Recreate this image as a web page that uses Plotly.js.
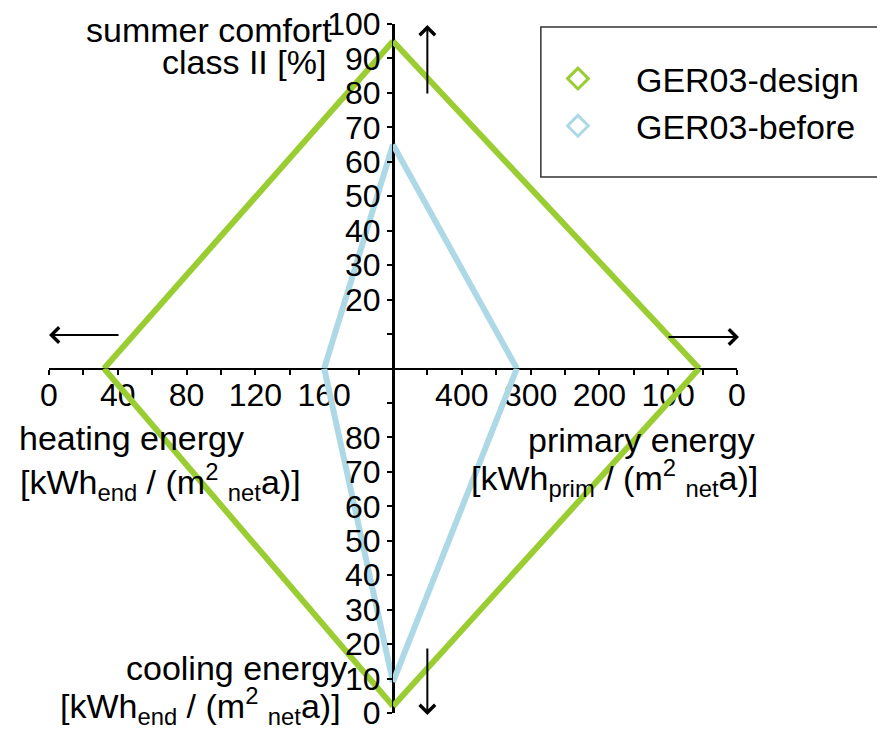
<!DOCTYPE html>
<html>
<head>
<meta charset="utf-8">
<script src="https://cdn.plot.ly/plotly-3.0.1.min.js"></script>
<style>html,body{margin:0;padding:0;background:#fff;}#chart{width:877px;height:732px;}</style>
</head>
<body>
<div id="chart"></div>
<script>
// ---- data ----
const categories = ['summer comfort class II [%]', 'primary energy', 'cooling energy', 'heating energy'];
const seriesNames = ['GER03-design', 'GER03-before'];
const seriesColors = ['#9acd32', '#add8e6'];
// order: comfort, primary, cooling, heating
const designValues = [95, 55, 2, 32];
const beforeValues = [65, 320, 9, 160];

const comfortTicks = [0, 10, 20, 30, 40, 50, 60, 70, 80, 90, 100];
const comfortLabels = ['', '', '20', '30', '40', '50', '60', '70', '80', '90', '100'];
const heatingTicks = [0, 20, 40, 60, 80, 100, 120, 140, 160, 180, 200];
const heatingLabels = ['0', '', '40', '', '80', '', '120', '', '160', '', ''];
const primaryTicks = [0, 50, 100, 150, 200, 250, 300, 350, 400, 450, 500];
const primaryLabels = ['0', '', '100', '', '200', '', '300', '', '400', '', ''];
const coolingTicks = [0, 10, 20, 30, 40, 50, 60, 70, 80, 90, 100];
const coolingLabels = ['0', '10', '20', '30', '40', '50', '60', '70', '80', '', ''];

// axis ranges (outer end first where reversed)
const comfortRange = [0, 100];   // 0 at centre, 100 at top
const heatingRange = [0, 200];   // 0 at left edge, 200 at centre
const primaryRange = [500, 0];   // 500 at centre, 0 at right edge
const coolingRange = [0, 100];   // 0 at bottom edge, 100 at centre

// ---- build ----
const COMFORT_C = comfortRange[0], HEAT_C = heatingRange[1], PRIM_C = primaryRange[0], COOL_C = coolingRange[1];
const traces = [];
function addSeries(vals, name, color) {
  const [comfort, primary, cooling, heating] = vals;
  const base = {type: 'scatter', mode: 'lines', line: {color: color, width: 6}, cliponaxis: false,
                showlegend: false, hoverinfo: 'skip', legendgroup: name, name: name};
  traces.push(Object.assign({}, base, {xaxis: 'x2', yaxis: 'y', x: [PRIM_C, primary], y: [comfort, COMFORT_C]}));
  traces.push(Object.assign({}, base, {xaxis: 'x2', yaxis: 'y2', x: [primary, PRIM_C], y: [COOL_C, cooling]}));
  traces.push(Object.assign({}, base, {xaxis: 'x', yaxis: 'y2', x: [HEAT_C, heating], y: [cooling, COOL_C]}));
  traces.push(Object.assign({}, base, {xaxis: 'x', yaxis: 'y', x: [heating, HEAT_C], y: [COMFORT_C, comfort]}));
  traces.push({type: 'scatter', mode: 'markers', x: [null], y: [null], name: name, legendgroup: name,
               marker: {symbol: 'diamond-open', size: 16, color: color, line: {color: color, width: 3}},
               showlegend: true, hoverinfo: 'skip'});
}
addSeries(designValues, seriesNames[0], seriesColors[0]);
addSeries(beforeValues, seriesNames[1], seriesColors[1]);

const tickFont = {family: 'Liberation Sans, Arial, sans-serif', size: 32, color: '#000'};
const axisBase = {showgrid: false, zeroline: false, showline: true, linecolor: '#000', linewidth: 2.5,
                  ticks: 'outside', ticklen: 5, tickwidth: 2, tickcolor: '#000', tickmode: 'array',
                  tickfont: tickFont, fixedrange: true, anchor: 'free', position: 0.5};

const W = 691, H = 689, L = 49, T = 24;
const px = v => (v - L) / W;
const py = v => (T + H - v) / H;
const txtFont = {family: 'Liberation Sans, Arial, sans-serif', size: 34, color: '#000'};
const unitEnd = '[kWh<sub>end</sub> / (m<sup>2</sup> <sub>net</sub>a)]';
const unitPrim = '[kWh<sub>prim</sub> / (m<sup>2</sup> <sub>net</sub>a)]';
function label(text, x, y, anchor) {
  return {text: text, xref: 'paper', yref: 'paper', x: px(x), y: py(y), xanchor: anchor, yanchor: 'middle',
          showarrow: false, font: txtFont};
}
function arrow(tx, ty, ax, ay) {
  return {text: '', xref: 'paper', yref: 'paper', x: px(tx), y: py(ty), ax: ax, ay: ay, showarrow: true,
          arrowhead: 4, arrowsize: 1.5, arrowwidth: 2, arrowcolor: '#000', standoff: 0};
}

const layout = {
  width: 877, height: 732,
  margin: {l: L, r: 877 - L - W, t: T, b: 732 - T - H, pad: 0},
  paper_bgcolor: '#fff', plot_bgcolor: 'rgba(0,0,0,0)',
  font: {family: 'Liberation Sans, Arial, sans-serif', color: '#000'},
  xaxis: Object.assign({}, axisBase, {domain: [0, 0.5], range: heatingRange, tickvals: heatingTicks, ticktext: heatingLabels, side: 'bottom', ticklabelstandoff: -7}),
  xaxis2: Object.assign({}, axisBase, {domain: [0.5, 1], range: primaryRange, tickvals: primaryTicks, ticktext: primaryLabels, side: 'bottom', ticklabelstandoff: -7}),
  yaxis: Object.assign({}, axisBase, {domain: [0.5, 1], range: comfortRange, tickvals: comfortTicks, ticktext: comfortLabels, side: 'left'}),
  yaxis2: Object.assign({}, axisBase, {domain: [0, 0.5], range: coolingRange, tickvals: coolingTicks, ticktext: coolingLabels, side: 'left'}),
  showlegend: true,
  legend: {x: px(522), y: py(50), xanchor: 'left', yanchor: 'top', bgcolor: 'rgba(0,0,0,0)', borderwidth: 0,
           font: txtFont, itemwidth: 106, tracegroupgap: 0},
  shapes: [{type: 'rect', xref: 'paper', yref: 'paper', x0: px(543), x1: px(884), y0: py(177), y1: py(27),
            line: {color: '#333', width: 1.5}}],
  annotations: [
    label('summer comfort', 335, 30, 'right'),
    label('class II [%]', 329, 62, 'right'),
    label('heating energy', 17, 438, 'left'),
    label(unitEnd, 18, 482, 'left'),
    label('primary energy', 760, 440, 'right'),
    label(unitPrim, 763, 478, 'right'),
    label('cooling energy', 350, 668, 'right'),
    label(unitEnd, 344, 706, 'right'),
    arrow(429, 25, 0, 70),
    arrow(49, 335, 71, 0),
    arrow(742, 337, -72, 0),
    arrow(429, 715, 0, -68)
  ]
};

Plotly.newPlot('chart', traces, layout, {displayModeBar: false, staticPlot: true});
</script>
</body>
</html>
